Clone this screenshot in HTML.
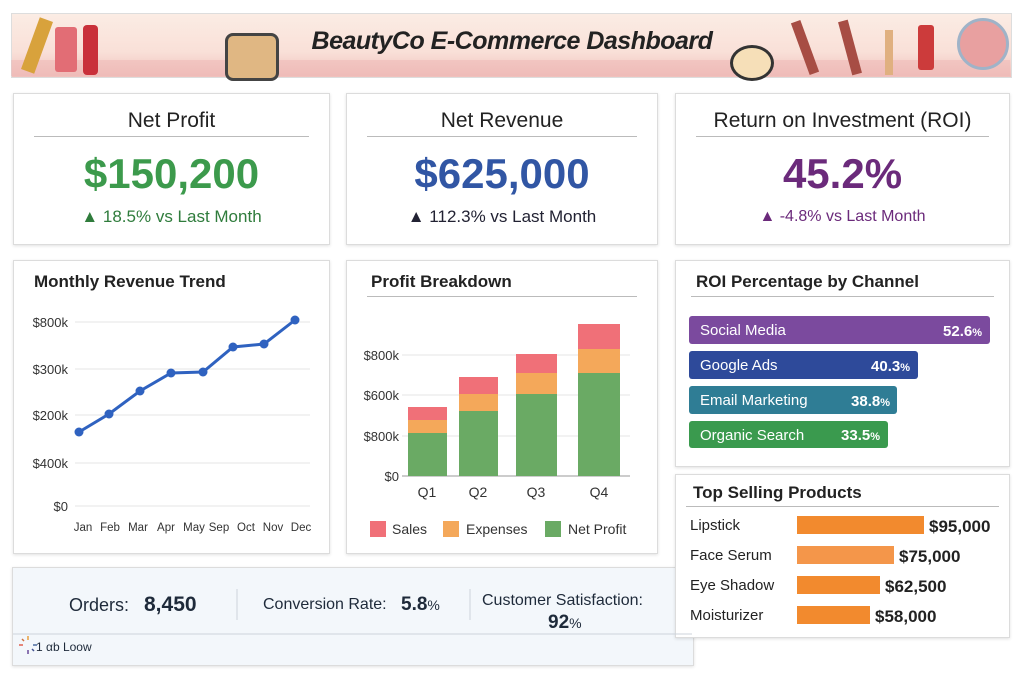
<!DOCTYPE html>
<html><head><meta charset="utf-8"><style>
body{margin:0;width:1024px;height:683px;background:#fff;font-family:"Liberation Sans",sans-serif;position:relative;overflow:hidden;color:#222}
.card{position:absolute;background:#fff;border:1px solid #dcdcdc;box-shadow:0 1px 3px rgba(0,0,0,.12)}
.abs{position:absolute}
.t{position:absolute;left:0;right:0;text-align:center;font-size:21px;color:#222}
.hr{position:absolute;height:1px;background:#bbb}
.big{position:absolute;left:0;right:0;text-align:center;font-size:42px;font-weight:bold}
.sub{position:absolute;left:0;right:0;text-align:center;font-size:17px}
.ct{position:absolute;font-size:17px;font-weight:bold;color:#222}
</style></head><body>
<div class="abs" style="left:11px;top:13px;width:999px;height:63px;background:linear-gradient(180deg,#fbece4 0%,#f9e0d8 60%,#f0c0bc 100%);border:1px solid #ddd"></div>
<div class="abs" style="left:11px;top:60px;width:999px;height:16px;background:#eeb5b3;opacity:.5"></div>
<div class="abs" style="left:30px;top:18px;width:14px;height:55px;background:#d8a23c;transform:rotate(20deg)"></div>
<div class="abs" style="left:55px;top:27px;width:22px;height:45px;background:#e26d75;border-radius:3px"></div>
<div class="abs" style="left:83px;top:25px;width:15px;height:50px;background:#c9303a;border-radius:4px"></div>
<div class="abs" style="left:225px;top:33px;width:48px;height:42px;background:#e0b783;border:3px solid #444;border-radius:8px"></div>
<div class="abs" style="left:730px;top:45px;width:38px;height:30px;background:#f6dfb8;border:3px solid #333;border-radius:50%"></div>
<div class="abs" style="left:800px;top:20px;width:10px;height:55px;background:#a74d44;transform:rotate(-20deg)"></div>
<div class="abs" style="left:845px;top:20px;width:10px;height:55px;background:#a74d44;transform:rotate(-15deg)"></div>
<div class="abs" style="left:885px;top:30px;width:8px;height:45px;background:#e0b080"></div>
<div class="abs" style="left:918px;top:25px;width:16px;height:45px;background:#cc3b3b;border-radius:3px"></div>
<div class="abs" style="left:957px;top:18px;width:46px;height:46px;background:#e8a0a0;border:3px solid #9fb3c8;border-radius:50%"></div>
<div class="abs" style="left:0;right:0;top:27px;text-align:center;font-size:25px;font-style:italic;font-weight:bold;color:#222;letter-spacing:-0.5px">BeautyCo E-Commerce Dashboard</div>

<div class="card" style="left:13px;top:93px;width:315px;height:150px">
<div class="t" style="top:15px">Net Profit</div><div class="hr" style="left:20px;right:20px;top:42px"></div>
<div class="big" style="top:56px;color:#3c9a4c">$150,200</div>
<div class="sub" style="top:113px;color:#2f7c3c">▲ 18.5% vs Last Month</div></div>
<div class="card" style="left:346px;top:93px;width:310px;height:150px">
<div class="t" style="top:15px">Net Revenue</div><div class="hr" style="left:20px;right:20px;top:42px"></div>
<div class="big" style="top:56px;color:#3156a4">$625,000</div>
<div class="sub" style="top:113px;color:#223">▲ 112.3% vs Last Month</div></div>
<div class="card" style="left:675px;top:93px;width:333px;height:150px">
<div class="t" style="top:15px">Return on Investment (ROI)</div><div class="hr" style="left:20px;right:20px;top:42px"></div>
<div class="big" style="top:56px;color:#6b2a7b">45.2%</div>
<div class="sub" style="top:114px;font-size:16px;color:#6b2a7b">▲ -4.8% vs Last Month</div></div>

<div class="card" style="left:13px;top:260px;width:315px;height:292px"><div class="ct" style="left:20px;top:11px">Monthly Revenue Trend</div></div>
<div class="card" style="left:346px;top:260px;width:310px;height:292px"><div class="ct" style="left:24px;top:11px">Profit Breakdown</div><div class="hr" style="left:20px;right:20px;top:35px"></div></div>
<div class="card" style="left:675px;top:260px;width:333px;height:205px"><div class="ct" style="left:20px;top:11px">ROI Percentage by Channel</div><div class="hr" style="left:15px;right:15px;top:35px"></div></div>
<div class="card" style="left:12px;top:567px;width:680px;height:97px;background:#f3f7fb"></div>
<div class="card" style="left:675px;top:474px;width:333px;height:162px"><div class="ct" style="left:17px;top:8px">Top Selling Products</div><div class="hr" style="left:10px;right:10px;top:31px"></div></div>

<svg class="abs" style="left:0;top:0" width="1024" height="683" font-family="Liberation Sans,sans-serif">
<g stroke="#e6e6e6"><line x1="75" y1="322" x2="310" y2="322"/><line x1="75" y1="369" x2="310" y2="369"/><line x1="75" y1="415" x2="310" y2="415"/><line x1="75" y1="463" x2="310" y2="463"/><line x1="75" y1="506" x2="310" y2="506"/></g>
<g font-size="13" fill="#333" text-anchor="end"><text x="68" y="327">$800k</text><text x="68" y="374">$300k</text><text x="68" y="420">$200k</text><text x="68" y="468">$400k</text><text x="68" y="511">$0</text></g>
<g font-size="11.5" fill="#333" text-anchor="middle"><text x="83" y="531">Jan</text><text x="110" y="531">Feb</text><text x="138" y="531">Mar</text><text x="166" y="531">Apr</text><text x="194" y="531">May</text><text x="219" y="531">Sep</text><text x="246" y="531">Oct</text><text x="273" y="531">Nov</text><text x="301" y="531">Dec</text></g>
<polyline fill="none" stroke="#2f62c0" stroke-width="3" points="79,432 109,414 140,391 171,373 203,372 233,347 264,344 295,320"/>
<g fill="#2f62c0"><circle cx="79" cy="432" r="4.5"/><circle cx="109" cy="414" r="4.5"/><circle cx="140" cy="391" r="4.5"/><circle cx="171" cy="373" r="4.5"/><circle cx="203" cy="372" r="4.5"/><circle cx="233" cy="347" r="4.5"/><circle cx="264" cy="344" r="4.5"/><circle cx="295" cy="320" r="4.5"/></g>

<g stroke="#e6e6e6"><line x1="402" y1="355" x2="630" y2="355"/><line x1="402" y1="395" x2="630" y2="395"/><line x1="402" y1="436" x2="630" y2="436"/><line x1="402" y1="476" x2="630" y2="476" stroke="#999"/></g>
<g font-size="13" fill="#333" text-anchor="end"><text x="399" y="360">$800k</text><text x="399" y="400">$600k</text><text x="399" y="441">$800k</text><text x="399" y="481">$0</text></g>
<g fill="#6aaa64"><rect x="408" y="433" width="39" height="43"/><rect x="459" y="411" width="39" height="65"/><rect x="516" y="394" width="41" height="82"/><rect x="578" y="373" width="42" height="103"/></g>
<g fill="#f4a85a"><rect x="408" y="420" width="39" height="13"/><rect x="459" y="394" width="39" height="17"/><rect x="516" y="373" width="41" height="21"/><rect x="578" y="349" width="42" height="24"/></g>
<g fill="#f07078"><rect x="408" y="407" width="39" height="13"/><rect x="459" y="377" width="39" height="17"/><rect x="516" y="354" width="41" height="19"/><rect x="578" y="324" width="42" height="25"/></g>
<g font-size="14" fill="#333" text-anchor="middle"><text x="427" y="497">Q1</text><text x="478" y="497">Q2</text><text x="536" y="497">Q3</text><text x="599" y="497">Q4</text></g>
<rect x="370" y="521" width="16" height="16" fill="#f07078"/><rect x="443" y="521" width="16" height="16" fill="#f4a85a"/><rect x="545" y="521" width="16" height="16" fill="#6aaa64"/>
<g font-size="14" fill="#333"><text x="392" y="534">Sales</text><text x="466" y="534">Expenses</text><text x="568" y="534">Net Profit</text></g>

<g font-size="15" fill="#fff">
<rect x="689" y="316" width="301" height="28" rx="3" fill="#7b4a9e"/><text x="700" y="335">Social Media</text><text x="982" y="336" text-anchor="end" font-weight="bold">52.6<tspan font-size="11">%</tspan></text>
<rect x="689" y="351" width="229" height="28" rx="3" fill="#2e4a9a"/><text x="700" y="370">Google Ads</text><text x="910" y="371" text-anchor="end" font-weight="bold">40.3<tspan font-size="11">%</tspan></text>
<rect x="689" y="386" width="208" height="28" rx="3" fill="#2f7d95"/><text x="700" y="405">Email Marketing</text><text x="890" y="406" text-anchor="end" font-weight="bold">38.8<tspan font-size="11">%</tspan></text>
<rect x="689" y="421" width="199" height="27" rx="3" fill="#3a9a4e"/><text x="700" y="440">Organic Search</text><text x="880" y="440" text-anchor="end" font-weight="bold">33.5<tspan font-size="11">%</tspan></text>
</g>

<g font-size="15" fill="#222">
<text x="690" y="530">Lipstick</text><rect x="797" y="516" width="127" height="18" fill="#f28a2e"/><text x="929" y="532" font-weight="bold" font-size="17">$95,000</text>
<text x="690" y="560">Face Serum</text><rect x="797" y="546" width="97" height="18" fill="#f4964a"/><text x="899" y="562" font-weight="bold" font-size="17">$75,000</text>
<text x="690" y="590">Eye Shadow</text><rect x="797" y="576" width="83" height="18" fill="#f28a2e"/><text x="885" y="592" font-weight="bold" font-size="17">$62,500</text>
<text x="690" y="620">Moisturizer</text><rect x="797" y="606" width="73" height="18" fill="#f28a2e"/><text x="875" y="622" font-weight="bold" font-size="17">$58,000</text>
</g>

<g fill="#1e2a3a"><text x="69" y="611" font-size="18">Orders:</text><text x="144" y="611" font-size="21" font-weight="bold">8,450</text>
<text x="263" y="609" font-size="16">Conversion Rate:</text><text x="401" y="610" font-size="19" font-weight="bold">5.8<tspan font-size="14" font-weight="normal">%</tspan></text>
<text x="482" y="605" font-size="16">Customer Satisfaction:</text><text x="548" y="628" font-size="19" font-weight="bold">92<tspan font-size="14" font-weight="normal">%</tspan></text>
<text x="36" y="651" font-size="12">1 αb Loow</text></g>
<g stroke="#ccd3db"><line x1="237" y1="589" x2="237" y2="620"/><line x1="470" y1="589" x2="470" y2="620"/><line x1="13" y1="634" x2="692" y2="634"/></g>
<g stroke-width="1.5"><line x1="28" y1="636" x2="28" y2="640" stroke="#e8a040"/><line x1="28" y1="650" x2="28" y2="654" stroke="#6a4a9a"/><line x1="19" y1="645" x2="23" y2="645" stroke="#e06050"/><line x1="33" y1="645" x2="37" y2="645" stroke="#4a6aa0"/><line x1="22" y1="639" x2="24" y2="641" stroke="#d07040"/><line x1="32" y1="649" x2="34" y2="651" stroke="#405090"/></g>
</svg>
</body></html>
